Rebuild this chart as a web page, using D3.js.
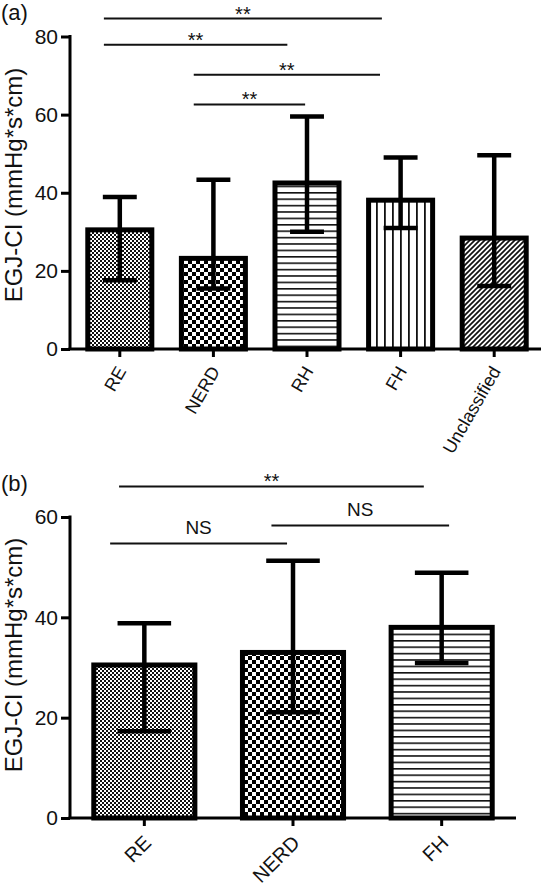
<!DOCTYPE html>
<html>
<head>
<meta charset="utf-8">
<script src="https://cdn.jsdelivr.net/npm/d3@7"></script>
<style>
  html, body { margin: 0; padding: 0; background: #fff; }
  svg { display: block; font-family: "Liberation Sans", Arial, Helvetica, sans-serif; }
</style>
</head>
<body>
<svg id="chart" width="545" height="889"></svg>
<script>
// ---------- data ----------
const catsA  = ["RE", "NERD", "RH", "FH", "Unclassified"];
const meanA  = [30.5, 23.2, 42.5, 38.1, 28.4];
const upperA = [38.9, 43.3, 59.5, 49.0, 49.6];
const lowerA = [17.6, 15.5, 30.0, 31.0, 16.1];
const fillA  = ["fineCheck", "bigCheck", "hLines", "vLines", "diag"];
const ticksA = [0, 20, 40, 60, 80];
// brackets: [from index, to index, y value, label]
const bracketsA = [
  [-0.17, 2.80, 84.6, "**"],
  [-0.17, 1.79, 77.9, "**"],
  [0.79, 2.78, 70.2, "**"],
  [0.79, 1.98, 62.6, "**"]
];

const catsB  = ["RE", "NERD", "FH"];
const meanB  = [30.5, 33.0, 38.0];
const upperB = [38.8, 51.3, 48.9];
const lowerB = [17.3, 21.1, 30.9];
const fillB  = ["fineCheck", "bigCheck", "hLines"];
const ticksB = [0, 20, 40, 60];
const bracketsB = [
  [-0.17, 1.88, 66.1, "**"],
  [-0.23, 0.96, 54.7, "NS"],
  [0.855, 2.05, 58.3, "NS"]
];

const yLabel = "EGJ-CI (mmHg*s*cm)";

// ---------- patterns ----------
const svg = d3.select("#chart");
const defs = svg.append("defs");

function pat(id, w, h) {
  const p = defs.append("pattern").attr("id", id)
    .attr("patternUnits", "userSpaceOnUse").attr("width", w).attr("height", h);
  p.append("rect").attr("width", w).attr("height", h).attr("fill", "#fff");
  return p;
}
{
  const p = pat("fineCheck", 4, 4);
  p.append("rect").attr("x", 0).attr("y", 0).attr("width", 2).attr("height", 2).attr("fill", "#111");
  p.append("rect").attr("x", 2).attr("y", 2).attr("width", 2).attr("height", 2).attr("fill", "#111");
}
{
  const p = pat("bigCheck", 8, 8);
  p.append("rect").attr("x", 0).attr("y", 0).attr("width", 4).attr("height", 4).attr("fill", "#000");
  p.append("rect").attr("x", 4).attr("y", 4).attr("width", 4).attr("height", 4).attr("fill", "#000");
}
{
  const p = pat("hLines", 6, 6.4);
  p.append("rect").attr("x", 0).attr("y", 0).attr("width", 6).attr("height", 1.6).attr("fill", "#111");
}
{
  const p = pat("vLines", 8, 6);
  p.append("rect").attr("x", 0).attr("y", 0).attr("width", 1.8).attr("height", 6).attr("fill", "#111");
}
{
  const p = pat("diag", 5, 5);
  p.append("path").attr("d", "M-1,1 l2,-2 M0,5 l5,-5 M4,6 l2,-2")
    .attr("stroke", "#111").attr("stroke-width", 1.7);
}

// ---------- panel drawer ----------
function panel(cfg) {
  const g = svg.append("g");
  const x = d3.scaleBand().domain(cfg.cats).range(cfg.xRange)
    .paddingInner(cfg.padIn).paddingOuter(cfg.padOut);
  const y = d3.scaleLinear().domain([0, cfg.ticks[cfg.ticks.length - 1]]).range(cfg.yRange);
  const xi = d3.scaleLinear().domain([0, cfg.cats.length - 1])
    .range([x(cfg.cats[0]) + x.bandwidth() / 2, x(cfg.cats[cfg.cats.length - 1]) + x.bandwidth() / 2]);

  // bars
  g.selectAll("rect.bar").data(cfg.cats).join("rect").attr("class", "bar")
    .attr("x", d => x(d)).attr("width", x.bandwidth())
    .attr("y", (d, i) => y(cfg.mean[i]))
    .attr("height", (d, i) => y(0) - y(cfg.mean[i]))
    .attr("fill", (d, i) => `url(#${cfg.fill[i]})`)
    .attr("stroke", "#000").attr("stroke-width", 5);

  // error bars
  const capW = x.bandwidth() * 0.53;
  const eb = g.selectAll("g.err").data(cfg.cats).join("g").attr("class", "err")
    .attr("stroke", "#000").attr("stroke-width", 4.5);
  eb.append("line")
    .attr("x1", d => x(d) + x.bandwidth() / 2).attr("x2", d => x(d) + x.bandwidth() / 2)
    .attr("y1", (d, i) => y(cfg.lower[i])).attr("y2", (d, i) => y(cfg.upper[i]));
  eb.append("line")
    .attr("x1", d => x(d) + x.bandwidth() / 2 - capW / 2).attr("x2", d => x(d) + x.bandwidth() / 2 + capW / 2)
    .attr("y1", (d, i) => y(cfg.upper[i])).attr("y2", (d, i) => y(cfg.upper[i]));
  eb.append("line")
    .attr("x1", d => x(d) + x.bandwidth() / 2 - capW / 2).attr("x2", d => x(d) + x.bandwidth() / 2 + capW / 2)
    .attr("y1", (d, i) => y(cfg.lower[i])).attr("y2", (d, i) => y(cfg.lower[i]));

  // y axis
  const ya = g.append("g").attr("transform", `translate(${cfg.axisX},0)`)
    .call(d3.axisLeft(y).tickValues(cfg.ticks).tickSize(9).tickPadding(3).tickSizeOuter(0));
  ya.select(".domain").attr("stroke-width", 3).attr("d", `M0,${y(0)}V${y(cfg.ticks[cfg.ticks.length - 1]) - 1.5}`);
  ya.selectAll(".tick line").attr("stroke-width", 3);
  ya.selectAll(".tick text").attr("font-size", 21).attr("fill", "#111")
    .attr("font-family", "Liberation Sans, Arial, sans-serif");

  // x axis
  const xa = g.append("g").attr("transform", `translate(0,${y(0)})`)
    .call(d3.axisBottom(x).tickSize(8).tickPadding(0).tickSizeOuter(0));
  xa.select(".domain").attr("stroke-width", 3).attr("d", `M${cfg.axisX - 1.5},0H${cfg.xAxisEnd}`);
  xa.selectAll(".tick line").attr("stroke-width", 3);
  xa.selectAll(".tick text").attr("font-size", cfg.xFont).attr("fill", "#111")
    .attr("font-family", "Liberation Sans, Arial, sans-serif")
    .attr("text-anchor", "end").attr("dy", null).attr("y", 0)
    .attr("transform", `translate(${cfg.xLabDx},${cfg.xLabDy}) rotate(${cfg.xAngle})`);

  // y label
  g.append("text").attr("transform", `translate(${cfg.labelX},${cfg.labelY}) rotate(-90)`)
    .attr("text-anchor", "middle").attr("font-size", 24).attr("fill", "#111").text(yLabel);

  // panel tag
  g.append("text").attr("x", 1).attr("y", cfg.tagY).attr("font-size", 22).attr("fill", "#111").text(cfg.tag);

  // significance brackets
  const br = g.selectAll("g.br").data(cfg.brackets).join("g").attr("class", "br");
  br.append("line").attr("stroke", "#111").attr("stroke-width", 2)
    .attr("x1", d => xi(d[0])).attr("x2", d => xi(d[1]))
    .attr("y1", d => y(d[2])).attr("y2", d => y(d[2]));
  br.append("text").attr("text-anchor", "middle").attr("fill", "#111")
    .attr("x", d => (xi(d[0]) + xi(d[1])) / 2)
    .attr("y", d => d[3] === "NS" ? y(d[2]) - 10 : y(d[2]) + 2)
    .attr("font-size", d => d[3] === "NS" ? 19 : 20)
    .text(d => d[3]);
}

panel({
  cats: catsA, mean: meanA, upper: upperA, lower: lowerA, fill: fillA, ticks: ticksA,
  brackets: bracketsA, xRange: [73, 541], padIn: 0.316, padOut: 0.158,
  yRange: [349, 36.5], axisX: 70, xAxisEnd: 541, labelX: 22, labelY: 185, tag: "(a)", tagY: 20,
  xFont: 18, xAngle: -60, xLabDx: 7, xLabDy: 22
});
panel({
  cats: catsB, mean: meanB, upper: upperB, lower: lowerB, fill: fillB, ticks: ticksB,
  brackets: bracketsB, xRange: [70, 516], padIn: 0.32, padOut: 0.16,
  yRange: [818, 517], axisX: 70, xAxisEnd: 516, labelX: 22, labelY: 655, tag: "(b)", tagY: 491,
  xFont: 20, xAngle: -45, xLabDx: 8, xLabDy: 26
});
</script>
</body>
</html>
